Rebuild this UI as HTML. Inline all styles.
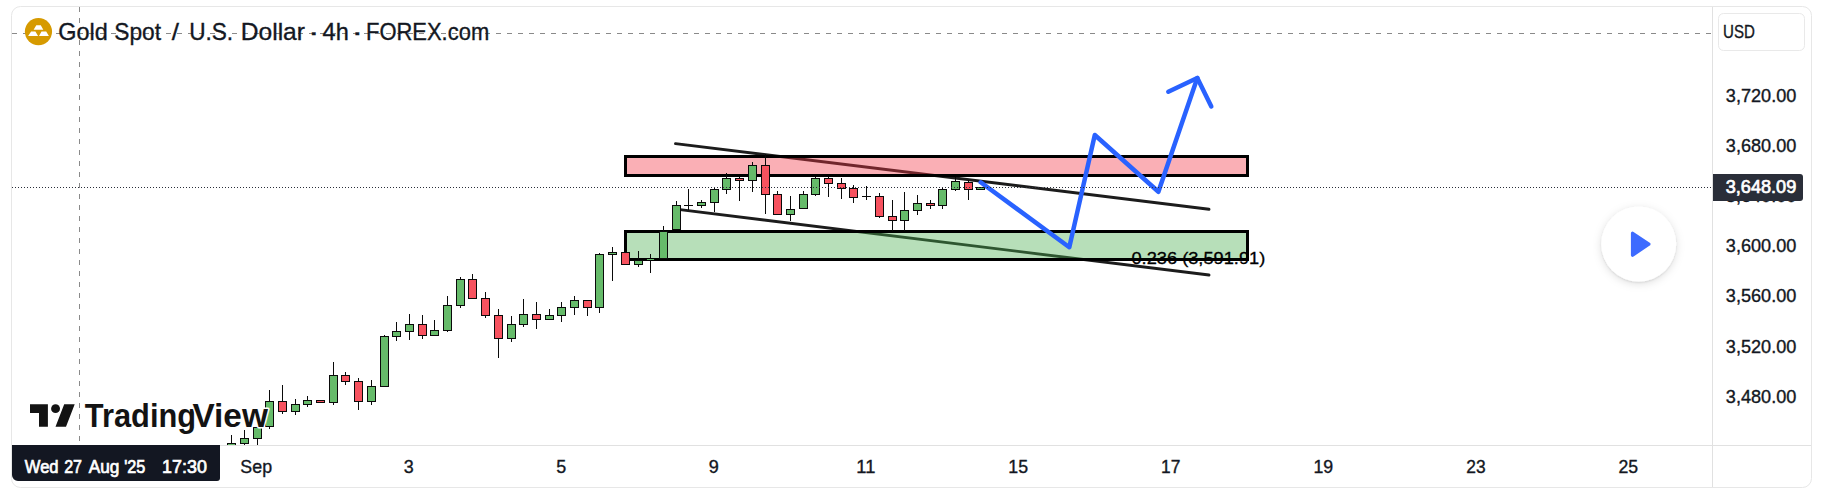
<!DOCTYPE html>
<html lang="en"><head><meta charset="utf-8"><title>Gold Spot / U.S. Dollar</title>
<style>
html,body{margin:0;padding:0;background:#fff;}
body{width:1825px;height:502px;overflow:hidden;position:relative;font-family:"Liberation Sans",sans-serif;}
svg{position:absolute;left:0;top:0;display:block}
text{font-family:"Liberation Sans",sans-serif;}
</style></head><body>
<svg width="1825" height="502" viewBox="0 0 1825 502">
<defs>
<clipPath id="pane"><rect x="12" y="7" width="1700" height="438"/></clipPath>
<filter id="sh" x="-30%" y="-30%" width="160%" height="160%"><feDropShadow dx="0" dy="1" stdDeviation="1.2" flood-color="#000" flood-opacity="0.10"/><feDropShadow dx="0" dy="2" stdDeviation="4.5" flood-color="#000" flood-opacity="0.13"/></filter>
</defs>
<rect x="0" y="0" width="1825" height="502" fill="#fff"/>
<!-- frame -->
<rect x="11.5" y="6.5" width="1800" height="481" rx="9" ry="9" fill="#fff" stroke="#e7e7e7" stroke-width="1"/>
<line x1="1712.5" y1="7" x2="1712.5" y2="487" stroke="#e1e1e1" stroke-width="1"/>
<line x1="12" y1="445.5" x2="1811" y2="445.5" stroke="#e1e1e1" stroke-width="1"/>

<g clip-path="url(#pane)">
<!-- crosshair dashed lines -->
<line x1="12" y1="33.5" x2="1712" y2="33.5" stroke="#8a8a8a" stroke-width="1" stroke-dasharray="5 6" shape-rendering="crispEdges"/>
<line x1="79.5" y1="7" x2="79.5" y2="445" stroke="#8a8a8a" stroke-width="1" stroke-dasharray="5 6" shape-rendering="crispEdges"/>

<!-- trend lines (below rectangles) -->
<line x1="675.5" y1="143.6" x2="1209" y2="209.3" stroke="#1c1c1c" stroke-width="2.9" stroke-linecap="round"/>
<line x1="678" y1="209.4" x2="1209" y2="275" stroke="#1c1c1c" stroke-width="2.9" stroke-linecap="round"/>

<!-- zones -->
<rect x="625.5" y="156.5" width="622" height="19" fill="rgba(242,54,69,0.40)" stroke="#000" stroke-width="3"/>
<rect x="625.5" y="231.5" width="622" height="28" fill="rgba(76,175,80,0.40)" stroke="#000" stroke-width="3"/>

<!-- candles -->
<g shape-rendering="crispEdges">
<rect x="231" y="435" width="1" height="15" fill="#0a0a0a"/>
<rect x="227" y="443" width="9" height="7" fill="#0a0a0a"/>
<rect x="228" y="444" width="7" height="5" fill="#66bb6a"/>
<rect x="244" y="430" width="1" height="17" fill="#0a0a0a"/>
<rect x="240" y="438" width="9" height="6" fill="#0a0a0a"/>
<rect x="241" y="439" width="7" height="4" fill="#66bb6a"/>
<rect x="257" y="427" width="1" height="20" fill="#0a0a0a"/>
<rect x="253" y="427" width="9" height="12" fill="#0a0a0a"/>
<rect x="254" y="428" width="7" height="10" fill="#66bb6a"/>
<rect x="269" y="390" width="1" height="39" fill="#0a0a0a"/>
<rect x="265" y="401" width="9" height="26" fill="#0a0a0a"/>
<rect x="266" y="402" width="7" height="24" fill="#66bb6a"/>
<rect x="282" y="385" width="1" height="29" fill="#0a0a0a"/>
<rect x="278" y="401" width="9" height="11" fill="#0a0a0a"/>
<rect x="279" y="402" width="7" height="9" fill="#f7525f"/>
<rect x="295" y="399" width="1" height="16" fill="#0a0a0a"/>
<rect x="291" y="404" width="9" height="8" fill="#0a0a0a"/>
<rect x="292" y="405" width="7" height="6" fill="#66bb6a"/>
<rect x="307" y="396" width="1" height="11" fill="#0a0a0a"/>
<rect x="303" y="400" width="9" height="5" fill="#0a0a0a"/>
<rect x="304" y="401" width="7" height="3" fill="#66bb6a"/>
<rect x="320" y="400" width="1" height="3" fill="#0a0a0a"/>
<rect x="316" y="400" width="9" height="3" fill="#0a0a0a"/>
<rect x="317" y="401" width="7" height="1" fill="#f7525f"/>
<rect x="333" y="362" width="1" height="43" fill="#0a0a0a"/>
<rect x="329" y="375" width="9" height="28" fill="#0a0a0a"/>
<rect x="330" y="376" width="7" height="26" fill="#66bb6a"/>
<rect x="345" y="372" width="1" height="13" fill="#0a0a0a"/>
<rect x="341" y="375" width="9" height="7" fill="#0a0a0a"/>
<rect x="342" y="376" width="7" height="5" fill="#f7525f"/>
<rect x="358" y="378" width="1" height="32" fill="#0a0a0a"/>
<rect x="354" y="381" width="9" height="21" fill="#0a0a0a"/>
<rect x="355" y="382" width="7" height="19" fill="#f7525f"/>
<rect x="371" y="380" width="1" height="25" fill="#0a0a0a"/>
<rect x="367" y="386" width="9" height="16" fill="#0a0a0a"/>
<rect x="368" y="387" width="7" height="14" fill="#66bb6a"/>
<rect x="384" y="335" width="1" height="52" fill="#0a0a0a"/>
<rect x="380" y="336" width="9" height="51" fill="#0a0a0a"/>
<rect x="381" y="337" width="7" height="49" fill="#66bb6a"/>
<rect x="396" y="322" width="1" height="19" fill="#0a0a0a"/>
<rect x="392" y="331" width="9" height="6" fill="#0a0a0a"/>
<rect x="393" y="332" width="7" height="4" fill="#66bb6a"/>
<rect x="409" y="314" width="1" height="26" fill="#0a0a0a"/>
<rect x="405" y="324" width="9" height="8" fill="#0a0a0a"/>
<rect x="406" y="325" width="7" height="6" fill="#66bb6a"/>
<rect x="422" y="315" width="1" height="24" fill="#0a0a0a"/>
<rect x="418" y="324" width="9" height="12" fill="#0a0a0a"/>
<rect x="419" y="325" width="7" height="10" fill="#f7525f"/>
<rect x="434" y="320" width="1" height="16" fill="#0a0a0a"/>
<rect x="430" y="330" width="9" height="6" fill="#0a0a0a"/>
<rect x="431" y="331" width="7" height="4" fill="#66bb6a"/>
<rect x="447" y="296" width="1" height="36" fill="#0a0a0a"/>
<rect x="443" y="305" width="9" height="26" fill="#0a0a0a"/>
<rect x="444" y="306" width="7" height="24" fill="#66bb6a"/>
<rect x="460" y="277" width="1" height="31" fill="#0a0a0a"/>
<rect x="456" y="279" width="9" height="27" fill="#0a0a0a"/>
<rect x="457" y="280" width="7" height="25" fill="#66bb6a"/>
<rect x="472" y="274" width="1" height="25" fill="#0a0a0a"/>
<rect x="468" y="279" width="9" height="20" fill="#0a0a0a"/>
<rect x="469" y="280" width="7" height="18" fill="#f7525f"/>
<rect x="485" y="292" width="1" height="26" fill="#0a0a0a"/>
<rect x="481" y="298" width="9" height="18" fill="#0a0a0a"/>
<rect x="482" y="299" width="7" height="16" fill="#f7525f"/>
<rect x="498" y="309" width="1" height="49" fill="#0a0a0a"/>
<rect x="494" y="315" width="9" height="24" fill="#0a0a0a"/>
<rect x="495" y="316" width="7" height="22" fill="#f7525f"/>
<rect x="511" y="316" width="1" height="26" fill="#0a0a0a"/>
<rect x="507" y="324" width="9" height="15" fill="#0a0a0a"/>
<rect x="508" y="325" width="7" height="13" fill="#66bb6a"/>
<rect x="523" y="299" width="1" height="28" fill="#0a0a0a"/>
<rect x="519" y="314" width="9" height="11" fill="#0a0a0a"/>
<rect x="520" y="315" width="7" height="9" fill="#66bb6a"/>
<rect x="536" y="302" width="1" height="27" fill="#0a0a0a"/>
<rect x="532" y="314" width="9" height="6" fill="#0a0a0a"/>
<rect x="533" y="315" width="7" height="4" fill="#f7525f"/>
<rect x="549" y="309" width="1" height="11" fill="#0a0a0a"/>
<rect x="545" y="315" width="9" height="5" fill="#0a0a0a"/>
<rect x="546" y="316" width="7" height="3" fill="#66bb6a"/>
<rect x="561" y="302" width="1" height="20" fill="#0a0a0a"/>
<rect x="557" y="307" width="9" height="9" fill="#0a0a0a"/>
<rect x="558" y="308" width="7" height="7" fill="#66bb6a"/>
<rect x="574" y="296" width="1" height="19" fill="#0a0a0a"/>
<rect x="570" y="300" width="9" height="8" fill="#0a0a0a"/>
<rect x="571" y="301" width="7" height="6" fill="#66bb6a"/>
<rect x="587" y="300" width="1" height="16" fill="#0a0a0a"/>
<rect x="583" y="300" width="9" height="8" fill="#0a0a0a"/>
<rect x="584" y="301" width="7" height="6" fill="#f7525f"/>
<rect x="599" y="253" width="1" height="60" fill="#0a0a0a"/>
<rect x="595" y="254" width="9" height="54" fill="#0a0a0a"/>
<rect x="596" y="255" width="7" height="52" fill="#66bb6a"/>
<rect x="612" y="247" width="1" height="34" fill="#0a0a0a"/>
<rect x="608" y="252" width="9" height="3" fill="#0a0a0a"/>
<rect x="609" y="253" width="7" height="1" fill="#66bb6a"/>
<rect x="625" y="252" width="1" height="13" fill="#0a0a0a"/>
<rect x="621" y="252" width="9" height="13" fill="#0a0a0a"/>
<rect x="622" y="253" width="7" height="11" fill="#f7525f"/>
<rect x="638" y="251" width="1" height="16" fill="#0a0a0a"/>
<rect x="634" y="260" width="9" height="5" fill="#0a0a0a"/>
<rect x="635" y="261" width="7" height="3" fill="#66bb6a"/>
<rect x="650" y="254" width="1" height="19" fill="#0a0a0a"/>
<rect x="646" y="259" width="9" height="1" fill="#0a0a0a"/>
<rect x="647" y="259" width="7" height="1" fill="#66bb6a"/>
<rect x="663" y="226" width="1" height="33" fill="#0a0a0a"/>
<rect x="659" y="231" width="9" height="28" fill="#0a0a0a"/>
<rect x="660" y="232" width="7" height="26" fill="#66bb6a"/>
<rect x="676" y="201" width="1" height="29" fill="#0a0a0a"/>
<rect x="672" y="205" width="9" height="25" fill="#0a0a0a"/>
<rect x="673" y="206" width="7" height="23" fill="#66bb6a"/>
<rect x="688" y="189" width="1" height="21" fill="#0a0a0a"/>
<rect x="684" y="205" width="9" height="1" fill="#0a0a0a"/>
<rect x="701" y="200" width="1" height="8" fill="#0a0a0a"/>
<rect x="697" y="202" width="9" height="4" fill="#0a0a0a"/>
<rect x="698" y="203" width="7" height="2" fill="#66bb6a"/>
<rect x="714" y="188" width="1" height="24" fill="#0a0a0a"/>
<rect x="710" y="189" width="9" height="14" fill="#0a0a0a"/>
<rect x="711" y="190" width="7" height="12" fill="#66bb6a"/>
<rect x="726" y="173" width="1" height="21" fill="#0a0a0a"/>
<rect x="722" y="178" width="9" height="12" fill="#0a0a0a"/>
<rect x="723" y="179" width="7" height="10" fill="#66bb6a"/>
<rect x="739" y="177" width="1" height="24" fill="#0a0a0a"/>
<rect x="735" y="178" width="9" height="3" fill="#0a0a0a"/>
<rect x="736" y="179" width="7" height="1" fill="#f7525f"/>
<rect x="752" y="162" width="1" height="30" fill="#0a0a0a"/>
<rect x="748" y="165" width="9" height="16" fill="#0a0a0a"/>
<rect x="749" y="166" width="7" height="14" fill="#66bb6a"/>
<rect x="765" y="154" width="1" height="60" fill="#0a0a0a"/>
<rect x="761" y="165" width="9" height="30" fill="#0a0a0a"/>
<rect x="762" y="166" width="7" height="28" fill="#f7525f"/>
<rect x="777" y="191" width="1" height="24" fill="#0a0a0a"/>
<rect x="773" y="194" width="9" height="21" fill="#0a0a0a"/>
<rect x="774" y="195" width="7" height="19" fill="#f7525f"/>
<rect x="790" y="196" width="1" height="25" fill="#0a0a0a"/>
<rect x="786" y="209" width="9" height="6" fill="#0a0a0a"/>
<rect x="787" y="210" width="7" height="4" fill="#66bb6a"/>
<rect x="803" y="191" width="1" height="18" fill="#0a0a0a"/>
<rect x="799" y="194" width="9" height="15" fill="#0a0a0a"/>
<rect x="800" y="195" width="7" height="13" fill="#66bb6a"/>
<rect x="815" y="177" width="1" height="19" fill="#0a0a0a"/>
<rect x="811" y="178" width="9" height="17" fill="#0a0a0a"/>
<rect x="812" y="179" width="7" height="15" fill="#66bb6a"/>
<rect x="828" y="177" width="1" height="20" fill="#0a0a0a"/>
<rect x="824" y="178" width="9" height="6" fill="#0a0a0a"/>
<rect x="825" y="179" width="7" height="4" fill="#f7525f"/>
<rect x="841" y="178" width="1" height="21" fill="#0a0a0a"/>
<rect x="837" y="183" width="9" height="6" fill="#0a0a0a"/>
<rect x="838" y="184" width="7" height="4" fill="#f7525f"/>
<rect x="853" y="185" width="1" height="18" fill="#0a0a0a"/>
<rect x="849" y="188" width="9" height="10" fill="#0a0a0a"/>
<rect x="850" y="189" width="7" height="8" fill="#f7525f"/>
<rect x="866" y="186" width="1" height="14" fill="#0a0a0a"/>
<rect x="862" y="196" width="9" height="1" fill="#0a0a0a"/>
<rect x="879" y="193" width="1" height="25" fill="#0a0a0a"/>
<rect x="875" y="196" width="9" height="21" fill="#0a0a0a"/>
<rect x="876" y="197" width="7" height="19" fill="#f7525f"/>
<rect x="892" y="200" width="1" height="31" fill="#0a0a0a"/>
<rect x="888" y="216" width="9" height="5" fill="#0a0a0a"/>
<rect x="889" y="217" width="7" height="3" fill="#f7525f"/>
<rect x="904" y="192" width="1" height="39" fill="#0a0a0a"/>
<rect x="900" y="210" width="9" height="11" fill="#0a0a0a"/>
<rect x="901" y="211" width="7" height="9" fill="#66bb6a"/>
<rect x="917" y="195" width="1" height="20" fill="#0a0a0a"/>
<rect x="913" y="203" width="9" height="8" fill="#0a0a0a"/>
<rect x="914" y="204" width="7" height="6" fill="#66bb6a"/>
<rect x="930" y="200" width="1" height="9" fill="#0a0a0a"/>
<rect x="926" y="203" width="9" height="3" fill="#0a0a0a"/>
<rect x="927" y="204" width="7" height="1" fill="#f7525f"/>
<rect x="942" y="188" width="1" height="21" fill="#0a0a0a"/>
<rect x="938" y="189" width="9" height="17" fill="#0a0a0a"/>
<rect x="939" y="190" width="7" height="15" fill="#66bb6a"/>
<rect x="955" y="177" width="1" height="14" fill="#0a0a0a"/>
<rect x="951" y="181" width="9" height="9" fill="#0a0a0a"/>
<rect x="952" y="182" width="7" height="7" fill="#66bb6a"/>
<rect x="968" y="180" width="1" height="20" fill="#0a0a0a"/>
<rect x="964" y="182" width="9" height="8" fill="#0a0a0a"/>
<rect x="965" y="183" width="7" height="6" fill="#f7525f"/>
<rect x="980" y="187" width="1" height="3" fill="#0a0a0a"/>
<rect x="976" y="187" width="9" height="3" fill="#0a0a0a"/>
<rect x="977" y="188" width="7" height="1" fill="#66bb6a"/>
</g>


<!-- fib text -->
<text x="1131.45" y="263.50" textLength="133.86" lengthAdjust="spacingAndGlyphs" style="font-size:17.3px;fill:#000;stroke:#000;stroke-width:0.3px;">0.236 (3,591.91)</text>

<!-- projection arrow -->
<polyline points="980.7,182.3 1069.3,247.2 1094.8,135 1158.4,191.8 1197.3,78" fill="none" stroke="#2962ff" stroke-width="4.5" stroke-linecap="round" stroke-linejoin="round"/>
<polyline points="1168.3,91.7 1197.3,78 1211.3,106.4" fill="none" stroke="#2962ff" stroke-width="4.5" stroke-linecap="round" stroke-linejoin="round"/>
<!-- price line -->
<line x1="12" y1="187.5" x2="1712" y2="187.5" stroke="#2a2e39" stroke-width="1" stroke-dasharray="1 2"/>
</g>

<!-- symbol logo -->
<circle cx="38.45" cy="31.6" r="13.6" fill="#d69a00"/>
<path d="M36.3 25.3H40.8L43.3 29.8H33.6ZM31.1 31.4H35.4L38.1 35.9H28.1ZM41.5 31.4H46.2L48.9 35.9H39Z" fill="#fff"/>
<text x="58.17" y="39.60" textLength="49.51" lengthAdjust="spacingAndGlyphs" style="font-size:24px;fill:#131722;stroke:#131722;stroke-width:0.35px;">Gold</text>
<text x="114.29" y="39.60" textLength="46.78" lengthAdjust="spacingAndGlyphs" style="font-size:24px;fill:#131722;stroke:#131722;stroke-width:0.35px;">Spot</text>
<text x="171.80" y="39.60" textLength="7.20" lengthAdjust="spacingAndGlyphs" style="font-size:24px;fill:#131722;stroke:#131722;stroke-width:0.35px;">/</text>
<text x="189.14" y="39.60" textLength="43.97" lengthAdjust="spacingAndGlyphs" style="font-size:24px;fill:#131722;stroke:#131722;stroke-width:0.35px;">U.S.</text>
<text x="240.80" y="39.60" textLength="64.14" lengthAdjust="spacingAndGlyphs" style="font-size:24px;fill:#131722;stroke:#131722;stroke-width:0.35px;">Dollar</text>
<text x="307.95" y="39.60" textLength="11.52" lengthAdjust="spacingAndGlyphs" style="font-size:24px;fill:#131722;stroke:#131722;stroke-width:0.35px;">·</text>
<text x="322.60" y="39.60" textLength="26.13" lengthAdjust="spacingAndGlyphs" style="font-size:24px;fill:#131722;stroke:#131722;stroke-width:0.35px;">4h</text>
<text x="351.56" y="39.60" textLength="11.62" lengthAdjust="spacingAndGlyphs" style="font-size:24px;fill:#131722;stroke:#131722;stroke-width:0.35px;">·</text>
<text x="366.08" y="39.60" textLength="123.07" lengthAdjust="spacingAndGlyphs" style="font-size:24px;fill:#131722;stroke:#131722;stroke-width:0.35px;">FOREX.com</text>

<!-- TradingView watermark -->
<g stroke="#fff" stroke-width="3" stroke-linejoin="round" paint-order="stroke" fill="#131313">
<path d="M30 404.2H47.9V426.8H39V413.1H30ZM55.5 426.8L64.2 404.2H74.7L66 426.8Z"/><circle cx="55.55" cy="408.65" r="4.45"/>
<text x="84.86" y="426.90" textLength="111.26" lengthAdjust="spacingAndGlyphs" style="font-size:32.6px;fill:#131313;font-weight:bold;stroke:#fff;stroke-width:3px;paint-order:stroke;stroke-linejoin:round;">Trading</text><text x="192.41" y="426.90" textLength="75.48" lengthAdjust="spacingAndGlyphs" style="font-size:32.6px;fill:#131313;font-weight:bold;stroke:#fff;stroke-width:3px;paint-order:stroke;stroke-linejoin:round;">View</text>
</g>

<!-- price axis -->
<rect x="1718.5" y="13.5" width="86" height="37" rx="5" ry="5" fill="#fff" stroke="#e9e9e9" stroke-width="1"/>
<text x="1723.09" y="37.60" textLength="31.81" lengthAdjust="spacingAndGlyphs" style="font-size:17.8px;fill:#131722;stroke:#131722;stroke-width:0.35px;">USD</text>
<text x="1725.84" y="101.80" textLength="70.54" lengthAdjust="spacingAndGlyphs" style="font-size:17.8px;fill:#131722;stroke:#131722;stroke-width:0.35px;">3,720.00</text><text x="1725.84" y="151.97" textLength="70.54" lengthAdjust="spacingAndGlyphs" style="font-size:17.8px;fill:#131722;stroke:#131722;stroke-width:0.35px;">3,680.00</text><text x="1725.84" y="202.14" textLength="70.54" lengthAdjust="spacingAndGlyphs" style="font-size:17.8px;fill:#131722;stroke:#131722;stroke-width:0.35px;">3,640.00</text><text x="1725.84" y="252.31" textLength="70.54" lengthAdjust="spacingAndGlyphs" style="font-size:17.8px;fill:#131722;stroke:#131722;stroke-width:0.35px;">3,600.00</text><text x="1725.84" y="302.48" textLength="70.54" lengthAdjust="spacingAndGlyphs" style="font-size:17.8px;fill:#131722;stroke:#131722;stroke-width:0.35px;">3,560.00</text><text x="1725.84" y="352.65" textLength="70.54" lengthAdjust="spacingAndGlyphs" style="font-size:17.8px;fill:#131722;stroke:#131722;stroke-width:0.35px;">3,520.00</text><text x="1725.84" y="402.82" textLength="70.54" lengthAdjust="spacingAndGlyphs" style="font-size:17.8px;fill:#131722;stroke:#131722;stroke-width:0.35px;">3,480.00</text>
<path d="M1713 174h87a3 3 0 0 1 3 3v21a3 3 0 0 1 -3 3h-87z" fill="#2a2e39"/>
<text x="1725.71" y="193.00" textLength="70.53" lengthAdjust="spacingAndGlyphs" style="font-size:17.8px;fill:#fff;stroke:#fff;stroke-width:0.7px;">3,648.09</text>


<!-- play button -->
<circle cx="1638.7" cy="244" r="37.5" fill="#fff" filter="url(#sh)"/>
<path d="M1632.6 233.3 L1648.8 244.2 L1632.6 255.1Z" fill="#3d6bff" stroke="#3d6bff" stroke-width="3.4" stroke-linejoin="round"/>

<!-- time axis -->
<text x="240.37" y="472.70" textLength="31.68" lengthAdjust="spacingAndGlyphs" style="font-size:17.8px;fill:#131722;stroke:#131722;stroke-width:0.35px;">Sep</text>
<text x="403.80" y="472.70" textLength="9.98" lengthAdjust="spacingAndGlyphs" style="font-size:17.8px;fill:#131722;stroke:#131722;stroke-width:0.35px;">3</text>
<text x="556.15" y="472.70" textLength="9.95" lengthAdjust="spacingAndGlyphs" style="font-size:17.8px;fill:#131722;stroke:#131722;stroke-width:0.35px;">5</text>
<text x="708.73" y="472.70" textLength="10.04" lengthAdjust="spacingAndGlyphs" style="font-size:17.8px;fill:#131722;stroke:#131722;stroke-width:0.35px;">9</text>
<text x="856.34" y="472.70" textLength="19.04" lengthAdjust="spacingAndGlyphs" style="font-size:17.8px;fill:#131722;stroke:#131722;stroke-width:0.35px;">11</text>
<text x="1008.29" y="472.70" textLength="19.76" lengthAdjust="spacingAndGlyphs" style="font-size:17.8px;fill:#131722;stroke:#131722;stroke-width:0.35px;">15</text>
<text x="1161.12" y="472.70" textLength="19.33" lengthAdjust="spacingAndGlyphs" style="font-size:17.8px;fill:#131722;stroke:#131722;stroke-width:0.35px;">17</text>
<text x="1313.38" y="472.70" textLength="19.76" lengthAdjust="spacingAndGlyphs" style="font-size:17.8px;fill:#131722;stroke:#131722;stroke-width:0.35px;">19</text>
<text x="1466.21" y="472.70" textLength="19.36" lengthAdjust="spacingAndGlyphs" style="font-size:17.8px;fill:#131722;stroke:#131722;stroke-width:0.35px;">23</text>
<text x="1618.50" y="472.70" textLength="19.67" lengthAdjust="spacingAndGlyphs" style="font-size:17.8px;fill:#131722;stroke:#131722;stroke-width:0.35px;">25</text>
<path d="M12 445h208v33a3 3 0 0 1 -3 3h-199a6 6 0 0 1 -6 -6z" fill="#131722"/>
<text x="24.84" y="472.80" textLength="33.73" lengthAdjust="spacingAndGlyphs" style="font-size:17.8px;fill:#fff;stroke:#fff;stroke-width:0.7px;">Wed</text>
<text x="64.17" y="472.80" textLength="17.81" lengthAdjust="spacingAndGlyphs" style="font-size:17.8px;fill:#fff;stroke:#fff;stroke-width:0.7px;">27</text>
<text x="88.69" y="472.80" textLength="30.58" lengthAdjust="spacingAndGlyphs" style="font-size:17.8px;fill:#fff;stroke:#fff;stroke-width:0.7px;">Aug</text>
<text x="124.14" y="472.80" textLength="21.17" lengthAdjust="spacingAndGlyphs" style="font-size:17.8px;fill:#fff;stroke:#fff;stroke-width:0.7px;">'25</text>
<text x="162.12" y="472.80" textLength="44.80" lengthAdjust="spacingAndGlyphs" style="font-size:17.8px;fill:#fff;stroke:#fff;stroke-width:0.7px;">17:30</text>
</svg>
</body></html>
